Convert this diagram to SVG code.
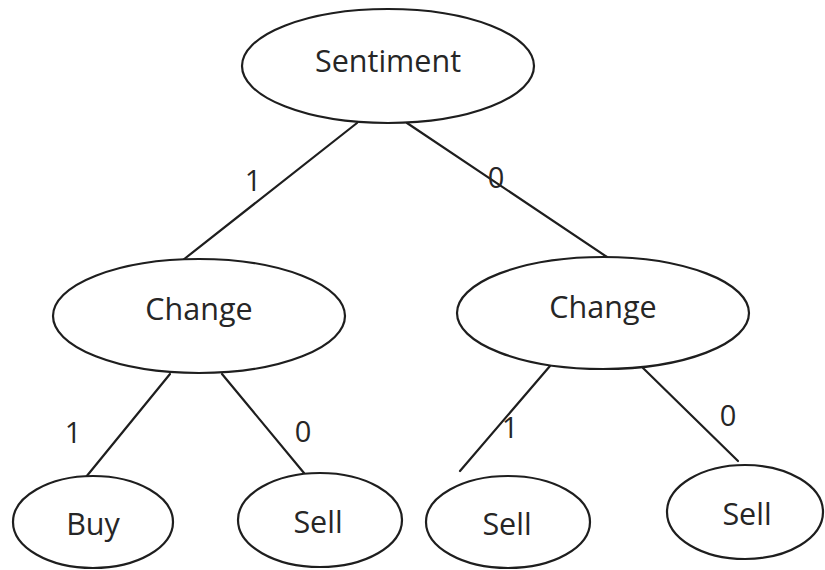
<svg xmlns="http://www.w3.org/2000/svg" width="825" height="570" viewBox="0 0 825 570">
  <style>
    .node ellipse { fill: #ffffff; stroke: #1e1e1e; stroke-width: 2.2; }
    .node text, .edge-label { font-family: "Open Sans", "Liberation Sans", sans-serif; fill: #262626; text-anchor: middle; }
    .node text { font-size: 30.5px; }
    .edge-label { font-size: 29px; }
    .edges line { stroke: #1e1e1e; stroke-width: 2.2; stroke-linecap: round; }
  </style>
  <rect width="825" height="570" fill="#ffffff"/>

  <!-- connectors -->
  <g id="edges" class="edges">
    <line x1="357" y1="123" x2="183" y2="260"/>
    <line x1="407" y1="123" x2="607" y2="257"/>
    <line x1="170" y1="374" x2="86" y2="477"/>
    <line x1="222" y1="374" x2="304" y2="473"/>
    <line x1="550" y1="366" x2="460" y2="471"/>
    <line x1="643" y1="368" x2="738" y2="461"/>
  </g>

  <!-- edge labels -->
  <g id="edge-labels">
    <text class="edge-label" x="253" y="191">1</text>
    <text class="edge-label" x="496" y="188">0</text>
    <text class="edge-label" x="73" y="443">1</text>
    <text class="edge-label" x="303" y="442">0</text>
    <text class="edge-label" x="510" y="438">1</text>
    <text class="edge-label" x="728" y="426">0</text>
  </g>

  <g id="sentiment" class="node">
    <ellipse cx="388" cy="66" rx="146" ry="57"/>
    <text x="388" y="72">Sentiment</text>
  </g>
  <g id="change-left" class="node">
    <ellipse cx="199" cy="316" rx="146" ry="57"/>
    <text x="199" y="320">Change</text>
  </g>
  <g id="change-right" class="node">
    <ellipse cx="603" cy="313" rx="146" ry="56"/>
    <text x="603" y="318">Change</text>
  </g>
  <g id="buy" class="node">
    <ellipse cx="93" cy="522" rx="80" ry="46"/>
    <text x="93" y="535">Buy</text>
  </g>
  <g id="sell-1" class="node">
    <ellipse cx="320" cy="520" rx="82" ry="47"/>
    <text x="318" y="533">Sell</text>
  </g>
  <g id="sell-2" class="node">
    <ellipse cx="508" cy="522" rx="82" ry="46"/>
    <text x="507" y="535">Sell</text>
  </g>
  <g id="sell-3" class="node">
    <ellipse cx="745" cy="512" rx="78" ry="47"/>
    <text x="747" y="525">Sell</text>
  </g>
</svg>
